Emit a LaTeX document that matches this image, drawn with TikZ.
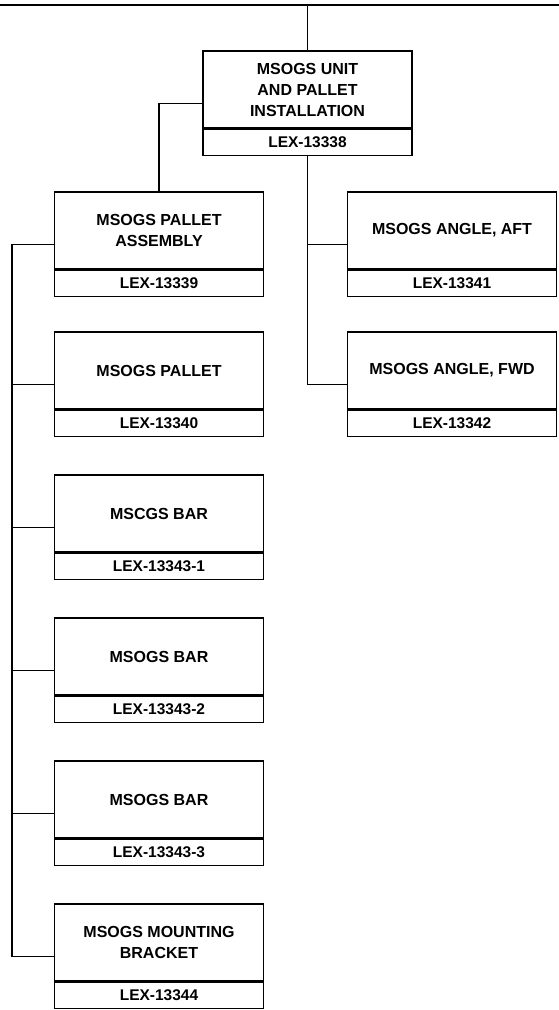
\documentclass[tikz,border=0pt]{standalone}
\usepackage{fontspec}
\setmainfont{Liberation Sans}
\usetikzlibrary{positioning,fit}
\tikzset{
  title/.style={draw, line width=1.5pt, align=center, inner sep=0pt,
    minimum width=209pt, minimum height=77pt,
    font=\bfseries\fontsize{16}{21}\selectfont},
  partno/.style={draw, line width=1.5pt, inner sep=0pt,
    minimum width=209pt, minimum height=26pt,
    font=\bfseries\fontsize{15.5}{18}\selectfont},
  frame/.style={inner sep=0pt},
  link/.style={line width=1.5pt}
}
\begin{document}
\begin{tikzpicture}[x=1pt,y=-1pt]
\useasboundingbox (0,0) rectangle (559,1010);

% ------------------------------------------------------------------
% top assembly
% ------------------------------------------------------------------
\node[title] (unitT) at (307.5,89.5) {MSOGS UNIT\\AND PALLET\\INSTALLATION};
\node[partno, below=0pt of unitT] (unitN) {LEX-13338};
\node[frame, fit=(unitT)(unitN)] (unit) {};

% ------------------------------------------------------------------
% left column: pallet assembly and its parts
% ------------------------------------------------------------------
\node[title] (assyT) at (159,230.5) {MSOGS PALLET\\ASSEMBLY};
\node[partno, below=0pt of assyT] (assyN) {LEX-13339};
\node[frame, fit=(assyT)(assyN)] (assy) {};

\node[title] (palletT) at (159,370.5) {MSOGS PALLET};
\node[partno, below=0pt of palletT] (palletN) {LEX-13340};
\node[frame, fit=(palletT)(palletN)] (pallet) {};

\node[title] (barAT) at (159,513.5) {MSCGS BAR};
\node[partno, below=0pt of barAT] (barAN) {LEX-13343-1};
\node[frame, fit=(barAT)(barAN)] (barA) {};

\node[title] (barBT) at (159,656.5) {MSOGS BAR};
\node[partno, below=0pt of barBT] (barBN) {LEX-13343-2};
\node[frame, fit=(barBT)(barBN)] (barB) {};

\node[title] (barCT) at (159,799.5) {MSOGS BAR};
\node[partno, below=0pt of barCT] (barCN) {LEX-13343-3};
\node[frame, fit=(barCT)(barCN)] (barC) {};

\node[title] (brktT) at (159,942.5) {MSOGS MOUNTING\\BRACKET};
\node[partno, below=0pt of brktT] (brktN) {LEX-13344};
\node[frame, fit=(brktT)(brktN)] (brkt) {};

% ------------------------------------------------------------------
% right column: angles
% ------------------------------------------------------------------
\node[title] (aftT) at (452,230.5) {MSOGS ANGLE, AFT};
\node[partno, below=0pt of aftT] (aftN) {LEX-13341};
\node[frame, fit=(aftT)(aftN)] (aft) {};

\node[title] (fwdT) at (452,370.5) {MSOGS ANGLE, FWD};
\node[partno, below=0pt of fwdT] (fwdN) {LEX-13342};
\node[frame, fit=(fwdT)(fwdN)] (fwd) {};

% ------------------------------------------------------------------
% connectors
% ------------------------------------------------------------------
\coordinate (busW) at (0,5);
\coordinate (busE) at (559,5);
\coordinate (spine) at (12,0);

\draw[link] (busW) -- (busE);
\draw[link] (unit.north) -- (unit.north |- busW);
\draw[link] (unit.west) -| (assy.north);
\draw[link] (unit.south) |- (aft.west);
\draw[link] (unit.south) |- (fwd.west);
\draw[link] (assy.west) -- (assy.west -| spine) |- (brkt.west);
\draw[link] (pallet.west) -- (pallet.west -| spine);
\draw[link] (barA.west) -- (barA.west -| spine);
\draw[link] (barB.west) -- (barB.west -| spine);
\draw[link] (barC.west) -- (barC.west -| spine);

\end{tikzpicture}
\end{document}
